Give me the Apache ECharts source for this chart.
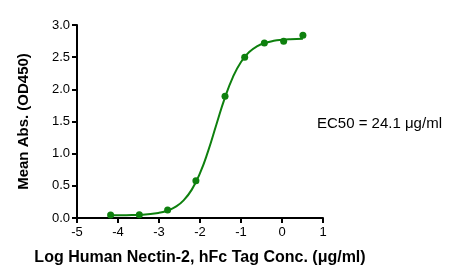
<!DOCTYPE html>
<html>
<head>
<meta charset="utf-8">
<script src="https://cdn.jsdelivr.net/npm/echarts@6/dist/echarts.min.js"></script>
<style>html,body{margin:0;padding:0;background:#fff}#c{width:466px;height:280px}</style>
</head>
<body>
<div id="c"></div>
<script>
// Measured points (log concentration, mean absorbance)
var pointX = [-4.18, -3.48, -2.79, -2.10, -1.39, -0.91, -0.43, 0.04, 0.51];
var pointY = [0.047, 0.050, 0.124, 0.579, 1.893, 2.499, 2.721, 2.747, 2.840];
// Fitted curve
var curveX = [-4.18, -3.8, -3.4, -3.0, -2.8, -2.6, -2.4, -2.2, -2.0, -1.8, -1.6, -1.4, -1.2, -1.0, -0.8, -0.6, -0.4, -0.2, 0.0, 0.2, 0.51];
var curveY = [0.041, 0.044, 0.052, 0.081, 0.114, 0.172, 0.274, 0.441, 0.696, 1.044, 1.453, 1.855, 2.187, 2.426, 2.579, 2.671, 2.724, 2.754, 2.770, 2.779, 2.786];
var xTicks = [-5, -4, -3, -2, -1, 0, 1];
var yTicks = ['0.0', '0.5', '1.0', '1.5', '2.0', '2.5', '3.0'];
var xTitle = 'Log Human Nectin-2, hFc Tag Conc. (\u03bcg/ml)';
var yTitle = 'Mean Abs. (OD450)';
var ec50Text = 'EC50 = 24.1 \u03bcg/ml';

var green = '#0e800e';
var font = 'Arial, "Liberation Sans", sans-serif';
var chart = echarts.init(document.getElementById('c'));
chart.setOption({
  animation: false,
  backgroundColor: '#fff',
  grid: {left: 77, right: 143, top: 25, bottom: 62},
  xAxis: {
    type: 'value', min: xTicks[0], max: xTicks[xTicks.length - 1], interval: 1,
    splitLine: {show: false},
    axisLine: {show: true, onZero: false, lineStyle: {color: '#000', width: 2}},
    axisTick: {show: true, length: 5, lineStyle: {color: '#000', width: 2}},
    axisLabel: {color: '#000', fontSize: 13, fontFamily: font, margin: 8,
      formatter: function (v) { return xTicks.indexOf(v) >= 0 ? String(v) : ''; }},
    name: xTitle, nameLocation: 'middle', nameGap: 32,
    nameTextStyle: {color: '#000', fontSize: 16, fontWeight: 'bold', fontFamily: font}
  },
  yAxis: {
    type: 'value', min: 0, max: 3, interval: 0.5,
    splitLine: {show: false},
    axisLine: {show: true, onZero: false, lineStyle: {color: '#000', width: 2}},
    axisTick: {show: true, length: 5, lineStyle: {color: '#000', width: 2}},
    axisLabel: {color: '#000', fontSize: 13, fontFamily: font, margin: 7,
      formatter: function (v) { return yTicks[Math.round(v * 2)]; }},
    name: yTitle, nameLocation: 'middle', nameGap: 46,
    nameTextStyle: {color: '#000', fontSize: 15, fontWeight: 'bold', fontFamily: font}
  },
  graphic: [{
    type: 'text', left: 317, top: 116,
    style: {text: ec50Text, fill: '#000', fontSize: 15, fontFamily: font}
  }],
  series: [{
    type: 'line', data: curveX.map(function (x, i) { return [x, curveY[i]]; }),
    smooth: true, showSymbol: false, lineStyle: {color: green, width: 2}, z: 2
  }, {
    type: 'scatter', data: pointX.map(function (x, i) { return [x, pointY[i]]; }),
    symbol: 'circle', symbolSize: 7, itemStyle: {color: green, opacity: 1}, z: 3
  }]
});
</script>
</body>
</html>
